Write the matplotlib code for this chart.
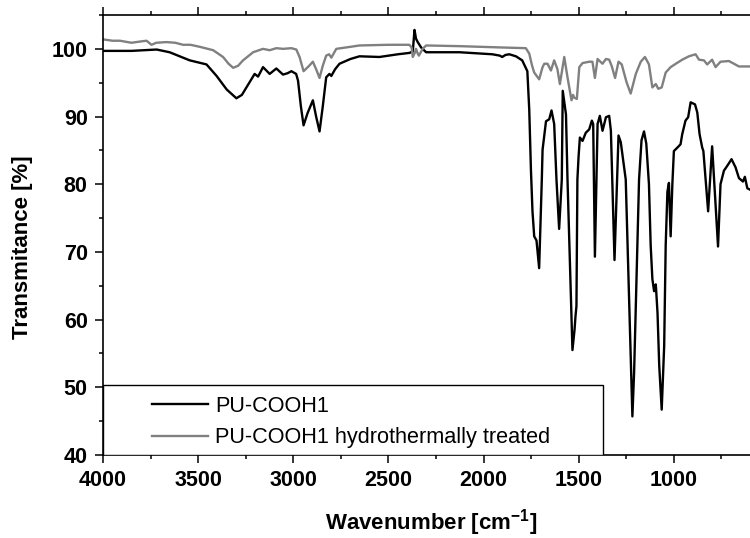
import numpy as np
import matplotlib
matplotlib.use('Agg')
import matplotlib.pyplot as plt
from matplotlib.patches import Rectangle
from matplotlib.ticker import MultipleLocator

plt.rcParams['font.family'] = ['Liberation Sans', 'DejaVu Sans']
plt.rcParams['mathtext.fontset'] = 'custom'
plt.rcParams['mathtext.bf'] = 'Liberation Sans:bold'
plt.rcParams['mathtext.rm'] = 'Liberation Sans:bold'

# spectra: wavenumber [cm-1], transmittance [%]
wn_pu = [4000, 3850, 3718, 3650, 3544, 3456, 3403, 3350, 3299, 3270, 3246, 3203, 3185,
         3159, 3124, 3089, 3054, 3030, 3010, 2985, 2975, 2960, 2946, 2925, 2897, 2880,
         2862, 2845, 2827, 2810, 2800, 2780, 2757, 2700, 2652, 2547, 2450, 2390, 2372,
         2363, 2355, 2346, 2328, 2302, 2127, 1954, 1915, 1902, 1885, 1865, 1830, 1797,
         1770, 1760, 1751, 1743, 1734, 1722, 1708, 1700, 1694, 1690, 1672, 1655, 1643,
         1629, 1617, 1603, 1589, 1584, 1567, 1559, 1533, 1522, 1517, 1512, 1507, 1501,
         1494, 1480, 1463, 1445, 1431, 1424, 1415, 1401, 1389, 1375, 1357, 1340, 1331,
         1312, 1291, 1279, 1253, 1218, 1209, 1183, 1170, 1157, 1145, 1131, 1122, 1113,
         1104, 1095, 1086, 1077, 1064, 1051, 1043, 1034, 1026, 1017, 1008, 1000, 982,
         965, 956, 939, 925, 912, 889, 877, 865, 851, 845, 820, 799, 768, 755, 737, 720,
         697, 676, 658, 637, 627, 614, 600]
t_pu = [99.7, 99.7, 99.9, 99.5, 98.3, 97.7, 96.0, 94.0, 92.7, 93.2, 94.3, 96.3, 95.9,
        97.3, 96.3, 97.1, 96.2, 96.4, 96.7, 96.3, 95.3, 91.5, 88.7, 90.5, 92.4, 90.0,
        87.8, 91.5, 95.8, 96.3, 96.0, 97.0, 97.8, 98.5, 98.9, 98.8, 99.2, 99.4, 99.6,
        102.8, 101.5, 101.0, 100.2, 99.5, 99.5, 99.2, 99.0, 98.8, 99.1, 99.2, 98.9, 98.3,
        96.7, 91.0, 82.0, 76.0, 72.3, 71.7, 67.6, 75.0, 80.7, 85.1, 89.3, 89.6, 90.9,
        88.9, 80.7, 73.4, 80.7, 93.8, 90.3, 80.7, 55.5, 58.5, 60.5, 62.0, 80.7, 84.0,
        86.9, 86.4, 87.6, 88.1, 89.4, 88.9, 69.3, 88.9, 90.1, 87.9, 89.9, 90.1, 87.9,
        68.8, 87.2, 86.2, 80.7, 45.7, 52.2, 80.7, 86.5, 87.8, 86.0, 80.0, 71.0, 66.0,
        64.2, 65.2, 61.0, 53.2, 46.7, 56.1, 71.0, 78.9, 80.2, 72.3, 80.0, 84.9, 85.4,
        85.9, 87.4, 89.4, 89.9, 92.1, 91.8, 90.6, 87.4, 85.4, 84.9, 76.0, 85.6, 70.8,
        80.0, 82.0, 82.7, 83.7, 82.5, 80.9, 80.4, 81.1, 79.4, 79.2]

wn_ht = [4000, 3950, 3911, 3850, 3800, 3771, 3745, 3720, 3666, 3620, 3579, 3540, 3491,
         3421, 3369, 3340, 3316, 3290, 3264, 3211, 3159, 3124, 3089, 3054, 3010, 2984,
         2967, 2946, 2920, 2897, 2880, 2862, 2845, 2827, 2812, 2800, 2774, 2700, 2652,
         2500, 2390, 2378, 2372, 2360, 2355, 2346, 2340, 2320, 2302, 2127, 1902, 1778,
         1760, 1745, 1734, 1708, 1690, 1681, 1664, 1646, 1629, 1612, 1599, 1576, 1559,
         1538, 1530, 1524, 1510, 1497, 1480, 1445, 1428, 1415, 1401, 1375, 1357, 1340,
         1326, 1309, 1291, 1274, 1249, 1227, 1200, 1174, 1152, 1131, 1113, 1095, 1082,
         1064, 1043, 1017, 990, 956, 921, 886, 868, 842, 825, 799, 781, 755, 711, 658, 600]
t_ht = [101.4, 101.2, 101.2, 100.9, 101.1, 101.2, 100.6, 100.9, 101.0, 100.9, 100.6,
        100.6, 100.3, 99.8, 98.8, 97.8, 97.2, 97.5, 98.3, 99.5, 100.0, 99.8, 100.1, 100.0,
        100.1, 99.9, 98.8, 96.7, 97.4, 98.1, 97.0, 95.7, 97.5, 99.0, 99.2, 98.7, 100.0,
        100.3, 100.5, 100.6, 100.6, 100.2, 98.8, 99.5, 100.0, 99.3, 99.0, 100.0, 100.5,
        100.4, 100.2, 100.1, 99.3, 97.5, 96.5, 95.5, 97.3, 97.8, 97.8, 96.8, 98.3, 97.0,
        94.8, 98.8, 95.8, 92.4, 93.2, 92.8, 92.6, 97.3, 97.9, 98.1, 98.1, 95.7, 98.5,
        97.8, 98.5, 98.4, 97.4, 95.7, 98.1, 97.7, 95.1, 93.4, 96.3, 98.1, 98.8, 97.7,
        94.3, 94.8, 94.1, 94.3, 96.5, 97.3, 97.8, 98.4, 98.9, 99.2, 98.4, 98.3, 97.7,
        98.4, 97.3, 98.1, 98.2, 97.4, 97.4]

labels = ['PU-COOH1', 'PU-COOH1 hydrothermally treated']

fig = plt.figure(figsize=(7.5, 5.38), dpi=100)
ax = fig.add_axes([0.1373, 0.1543, 0.8627, 0.8178])

ax.plot(wn_pu, t_pu, color='black', lw=1.7, label=labels[0])
ax.plot(wn_ht, t_ht, color='#808080', lw=1.7, label=labels[1])

ax.set_xlim(4000, 600)
ax.set_ylim(40, 105)
ax.xaxis.set_major_locator(MultipleLocator(500))
ax.xaxis.set_minor_locator(MultipleLocator(250))
ax.yaxis.set_major_locator(MultipleLocator(10))
ax.yaxis.set_minor_locator(MultipleLocator(5))
ax.tick_params(which='both', top=True, right=False, width=1.1, direction='out')
ax.tick_params(which='major', length=6, labelsize=15.5, pad=5)
ax.tick_params(which='minor', length=3)
for t in ax.get_xticklabels() + ax.get_yticklabels():
    t.set_fontweight('bold')
ax.spines['right'].set_visible(False)
for s in ['left', 'bottom', 'top']:
    ax.spines[s].set_linewidth(1.2)

ax.set_xlabel(r'Wavenumber [cm$^{\mathbf{-1}}$]', fontsize=16, fontweight='bold')
ax.set_ylabel('Transmitance [%]', fontsize=16, fontweight='bold')
ax.xaxis.set_label_coords(0.507, -0.118)
ax.yaxis.set_label_coords(-0.108, 0.472)

# legend box
ax.add_patch(Rectangle((0, 0), 0.773, 0.159, transform=ax.transAxes,
                       facecolor='white', edgecolor='black', lw=1, zorder=3))
ax.legend(loc='upper left', bbox_to_anchor=(0.075, 0.135), frameon=False,
          fontsize=15.6, handlelength=2.6, handletextpad=0.35, labelspacing=0.5,
          borderpad=0, borderaxespad=0).set_zorder(5)

fig.savefig('out.png', dpi=100)
